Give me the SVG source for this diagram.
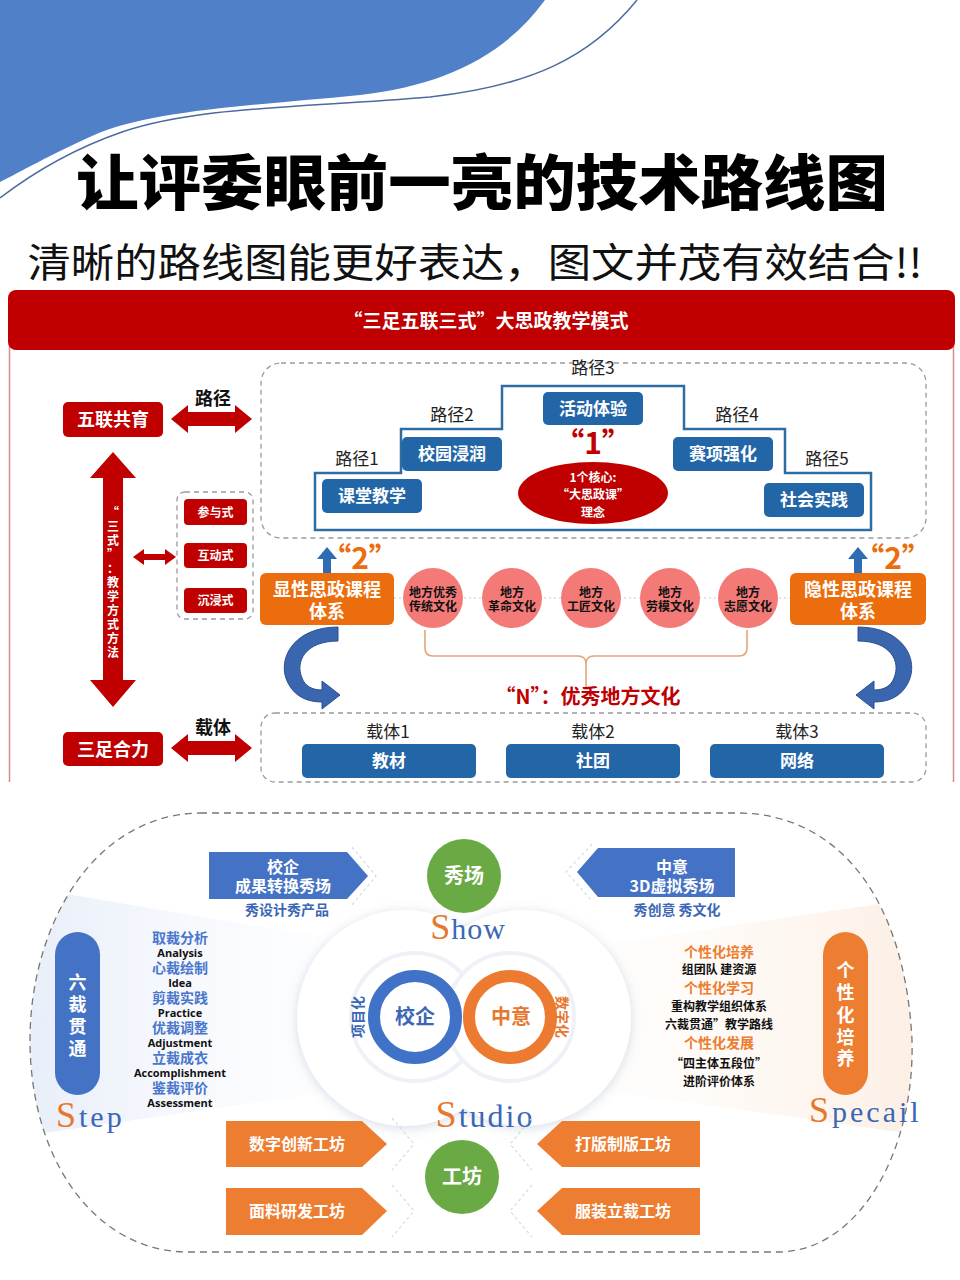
<svg xmlns="http://www.w3.org/2000/svg" width="960" height="1280" viewBox="0 0 960 1280">
<defs>
<style>
.cjk{font-family:"Noto Sans CJK SC","Noto Sans",sans-serif}
.wb{fill:#fff;font-weight:700;text-anchor:middle;font-family:"Noto Sans CJK SC","Noto Sans",sans-serif}
.lbl{fill:#222;font-size:17px;text-anchor:middle;font-family:"Noto Sans CJK SC","Noto Sans",sans-serif}
.redbox{fill:#c00000}
.bluebox{fill:#2366a8}
.orbox{fill:#ec6d0d}
.dash{fill:none;stroke:#9a9a9a;stroke-width:1.3;stroke-dasharray:5 4}
.circ{fill:#f47a78}
.ctxt{fill:#111;font-size:12px;font-weight:700;text-anchor:middle;font-family:"Noto Sans CJK SC",sans-serif}
.serif{font-family:"Liberation Serif","DejaVu Serif",serif}
.bl{fill:#4a76cc;font-size:14px;font-weight:700;text-anchor:middle;font-family:"Noto Sans CJK SC",sans-serif}
.en{fill:#111;font-size:11px;font-weight:700;text-anchor:middle;font-family:"Open Sans","Liberation Sans",sans-serif}
.og{fill:#ed7d31;font-size:14px;font-weight:700;text-anchor:middle;font-family:"Noto Sans CJK SC",sans-serif}
.bk{fill:#111;font-size:12px;font-weight:700;text-anchor:middle;font-family:"Noto Sans CJK SC",sans-serif}
.ghost{fill:none;stroke:#d5dbe8;stroke-width:1.2;stroke-dasharray:3 3}
</style>
<filter id="soft" x="-20%" y="-20%" width="140%" height="140%">
<feDropShadow dx="0" dy="2" stdDeviation="6" flood-color="#8c9ab8" flood-opacity="0.35"/>
</filter>
<linearGradient id="gBlue" x1="0" y1="0" x2="1" y2="0">
<stop offset="0" stop-color="#e8eef9"/><stop offset="1" stop-color="#f7f9fd" stop-opacity="0.2"/>
</linearGradient>
<linearGradient id="gOr" x1="1" y1="0" x2="0" y2="0">
<stop offset="0" stop-color="#fcefe4"/><stop offset="1" stop-color="#fef8f3" stop-opacity="0.2"/>
</linearGradient>
<clipPath id="outlineClip">
<path d="M200,813 L740,813 C 840,815 905,900 912,1040 C 915,1150 860,1250 780,1252 L185,1252 C 95,1250 30,1160 30,1040 C 30,930 90,815 200,813 Z"/>
</clipPath>
</defs>

<rect width="960" height="1280" fill="#fff"/>

<!-- top decoration -->
<g id="banner">
<path d="M0,0 L545,0 C 505,55 445,85 360,95 C 250,106 150,110 92,136 C 50,155 20,172 0,182 Z" fill="#5080c8"/>
<path d="M637,0 C 590,58 530,86 430,97 C 300,108 200,106 122,132 C 70,150 30,175 0,198" fill="none" stroke="#4a6aa0" stroke-width="1.5"/>
<text x="482" y="205" class="cjk" font-size="60" font-weight="900" fill="#000" text-anchor="middle" textLength="812" lengthAdjust="spacingAndGlyphs" stroke="#fff" stroke-width="3" paint-order="stroke">让评委眼前一亮的技术路线图</text>
<text x="475" y="277" class="cjk" font-size="40" fill="#111" text-anchor="middle" textLength="895" lengthAdjust="spacingAndGlyphs">清晰的路线图能更好表达，图文并茂有效结合!!</text>
</g>

<!-- upper diagram frame -->
<g id="frame">
<line x1="9.5" y1="340" x2="9.5" y2="782" stroke="#d98c8c" stroke-width="1.5"/>
<line x1="953.5" y1="340" x2="953.5" y2="782" stroke="#d98c8c" stroke-width="1.5"/>
<rect x="8" y="290" width="947" height="60" rx="8" fill="#c00000"/>
<text x="486" y="328" class="wb" font-size="19">“三足五联三式”大思政教学模式</text>
<rect x="261" y="363" width="665" height="175" rx="20" class="dash"/>
<rect x="177" y="492" width="76" height="127" rx="8" class="dash"/>
<rect x="261" y="713" width="665" height="69" rx="14" class="dash"/>
<polygon points="315,530 315,473 401,473 401,429 502,429 502,386 684,386 684,429 785,429 785,473 871,473 871,530" fill="#fff" stroke="#2e6da4" stroke-width="2.5"/>
</g>

<!-- connectors -->
<g id="connectors">
<polygon points="171,419 188,405 188,412 235,412 235,405 252,419 235,433 235,426 188,426 188,433" fill="#c00000"/>
<polygon points="171,748 188,734 188,741 235,741 235,734 252,748 235,762 235,755 188,755 188,762" fill="#c00000"/>
<polygon points="113,452 136,478 123,478 123,680 136,680 113,707 90,680 103,680 103,478 90,478" fill="#c00000"/>
<polygon points="133,557 144,549 144,554 165,554 165,549 176,557 165,565 165,560 144,560 144,565" fill="#c00000"/>
<polygon points="323,573 323,559 317,559 327,547 337,559 331,559 331,573" fill="#2e6db4"/>
<polygon points="854,573 854,559 848,559 858,547 868,559 862,559 862,573" fill="#2e6db4"/>
<line x1="394" y1="598" x2="790" y2="598" stroke="#c8c8c8" stroke-width="1" stroke-dasharray="2 3"/>
<path d="M425,630 L425,648 Q425,656 433,656 L578,656 Q586,656 586,664 L586,687 M586,664 Q586,656 594,656 L739,656 Q747,656 747,648 L747,630" fill="none" stroke="#e3a67a" stroke-width="1.6"/>
<path d="M338,627 C 293,627 276,660 288,683 C 295,697 308,702 322,702 L322,709 L340,695 L322,681 L322,690 C 312,690 305,686 302,678 C 295,662 305,641 338,641 Z" fill="#3a66b0" stroke="#2a4f90" stroke-width="1"/>
<path d="M338,627 C 293,627 276,660 288,683 C 295,697 308,702 322,702 L322,709 L340,695 L322,681 L322,690 C 312,690 305,686 302,678 C 295,662 305,641 338,641 Z" fill="#3a66b0" stroke="#2a4f90" stroke-width="1" transform="translate(1196,0) scale(-1,1)"/>
</g>

<!-- left column nodes -->
<g id="n-wulian"><rect x="63" y="402" width="100" height="35" rx="5" class="redbox"/><text x="113" y="426" class="wb" font-size="18">五联共育</text></g>
<g id="n-sanzu"><rect x="63" y="732" width="100" height="34" rx="5" class="redbox"/><text x="113" y="756" class="wb" font-size="18">三足合力</text></g>
<g id="t-lujing"><text x="213" y="405" class="cjk" font-size="18" font-weight="700" fill="#111" text-anchor="middle">路径</text></g>
<g id="t-zaiti"><text x="213" y="734" class="cjk" font-size="18" font-weight="700" fill="#111" text-anchor="middle">载体</text></g>
<g id="t-sanshi" class="wb" font-size="12">
<text x="113" y="517">“</text><text x="113" y="531">三</text><text x="113" y="545">式</text><text x="113" y="559">”</text><text x="113" y="573">：</text>
<text x="113" y="587">教</text><text x="113" y="601">学</text><text x="113" y="615">方</text><text x="113" y="629">式</text><text x="113" y="643">方</text><text x="113" y="657">法</text>
</g>
<g id="n-canyu"><rect x="184" y="499" width="63" height="26" rx="4" class="redbox"/><text x="215.5" y="517" class="wb" font-size="12">参与式</text></g>
<g id="n-hudong"><rect x="184" y="543" width="63" height="25" rx="4" class="redbox"/><text x="215.5" y="560" class="wb" font-size="12">互动式</text></g>
<g id="n-chenjin"><rect x="184" y="588" width="63" height="25" rx="4" class="redbox"/><text x="215.5" y="605" class="wb" font-size="12">沉浸式</text></g>

<!-- paths -->
<g id="n-path1"><text x="357" y="465" class="lbl">路径1</text><rect x="322" y="479" width="100" height="34" rx="5" class="bluebox"/><text x="372" y="502" class="wb" font-size="17">课堂教学</text></g>
<g id="n-path2"><text x="452" y="421" class="lbl">路径2</text><rect x="402" y="437" width="100" height="34" rx="5" class="bluebox"/><text x="452" y="460" class="wb" font-size="17">校园浸润</text></g>
<g id="n-path3"><text x="593" y="374" class="lbl">路径3</text><rect x="543" y="392" width="100" height="33" rx="5" class="bluebox"/><text x="593" y="415" class="wb" font-size="17">活动体验</text></g>
<g id="n-path4"><text x="737" y="421" class="lbl">路径4</text><rect x="673" y="437" width="100" height="34" rx="5" class="bluebox"/><text x="723" y="460" class="wb" font-size="17">赛项强化</text></g>
<g id="n-path5"><text x="827" y="465" class="lbl">路径5</text><rect x="764" y="483" width="100" height="34" rx="5" class="bluebox"/><text x="814" y="506" class="wb" font-size="17">社会实践</text></g>
<g id="n-core">
<text x="593" y="454" class="cjk" font-size="30" font-weight="700" fill="#c00000" text-anchor="middle">“1”</text>
<ellipse cx="593" cy="493" rx="75" ry="31" fill="#c00000"/>
<text x="593" y="482" class="wb" font-size="12">1个核心:</text>
<text x="593" y="499" class="wb" font-size="12">“大思政课”</text>
<text x="593" y="517" class="wb" font-size="12">理念</text>
</g>

<!-- course systems -->
<g id="n-xianxing">
<text x="360" y="569" class="cjk" font-size="30" font-weight="700" fill="#ec6d0d" text-anchor="middle">“2”</text>
<rect x="260" y="573" width="134" height="52" rx="6" class="orbox"/>
<text x="327" y="596" class="wb" font-size="18">显性思政课程</text><text x="327" y="618" class="wb" font-size="18">体系</text>
</g>
<g id="n-yinxing">
<text x="893" y="569" class="cjk" font-size="30" font-weight="700" fill="#ec6d0d" text-anchor="middle">“2”</text>
<rect x="790" y="573" width="136" height="52" rx="6" class="orbox"/>
<text x="858" y="596" class="wb" font-size="18">隐性思政课程</text><text x="858" y="618" class="wb" font-size="18">体系</text>
</g>
<g id="n-c1"><circle cx="433" cy="598" r="30" class="circ"/><text x="433" y="597" class="ctxt">地方优秀</text><text x="433" y="611" class="ctxt">传统文化</text></g>
<g id="n-c2"><circle cx="512" cy="598" r="30" class="circ"/><text x="512" y="597" class="ctxt">地方</text><text x="512" y="611" class="ctxt">革命文化</text></g>
<g id="n-c3"><circle cx="591" cy="598" r="30" class="circ"/><text x="591" y="597" class="ctxt">地方</text><text x="591" y="611" class="ctxt">工匠文化</text></g>
<g id="n-c4"><circle cx="670" cy="598" r="30" class="circ"/><text x="670" y="597" class="ctxt">地方</text><text x="670" y="611" class="ctxt">劳模文化</text></g>
<g id="n-c5"><circle cx="748" cy="598" r="30" class="circ"/><text x="748" y="597" class="ctxt">地方</text><text x="748" y="611" class="ctxt">志愿文化</text></g>
<g id="t-n"><text x="588" y="704" class="cjk" font-size="20" font-weight="700" fill="#c00000" text-anchor="middle">“N”：优秀地方文化</text></g>

<!-- carriers -->
<g id="n-z1"><text x="388" y="738" class="lbl">载体1</text><rect x="302" y="744" width="174" height="34" rx="5" class="bluebox"/><text x="389" y="767" class="wb" font-size="17">教材</text></g>
<g id="n-z2"><text x="593" y="738" class="lbl">载体2</text><rect x="506" y="744" width="174" height="34" rx="5" class="bluebox"/><text x="593" y="767" class="wb" font-size="17">社团</text></g>
<g id="n-z3"><text x="797" y="738" class="lbl">载体3</text><rect x="710" y="744" width="174" height="34" rx="5" class="bluebox"/><text x="797" y="767" class="wb" font-size="17">网络</text></g>

<!-- lower diagram -->
<g id="lower-bg">
<g clip-path="url(#outlineClip)">
<polygon points="30,888 330,938 330,1092 30,1135" fill="url(#gBlue)"/>
<polygon points="920,898 600,945 600,1090 920,1135" fill="url(#gOr)"/>
</g>
<path d="M200,813 L740,813 C 840,815 905,900 912,1040 C 915,1150 860,1250 780,1252 L185,1252 C 95,1250 30,1160 30,1040 C 30,930 90,815 200,813 Z" fill="none" stroke="#777" stroke-width="1.3" stroke-dasharray="7 5"/>
<g filter="url(#soft)">
<circle cx="405" cy="1018" r="108" fill="#fff"/>
<circle cx="523" cy="1018" r="108" fill="#fff"/>
</g>
<circle cx="415" cy="1017" r="64" fill="#fff" stroke="#eef1f6" stroke-width="4"/>
<circle cx="510" cy="1017" r="64" fill="#fff" stroke="#eef1f6" stroke-width="4"/>
</g>

<g id="n-xiaoqi-ring">
<circle cx="415" cy="1017" r="41" fill="#fff" stroke="#4072c8" stroke-width="12"/>
<text x="415" y="1024" class="cjk" font-size="20" font-weight="700" fill="#3b67b5" text-anchor="middle">校企</text>
<text transform="translate(363,1017) rotate(-90)" class="cjk" font-size="14" font-weight="700" fill="#3b67b5" text-anchor="middle">项目化</text>
</g>
<g id="n-zhongyi-ring">
<circle cx="510" cy="1017" r="41" fill="#fff" stroke="#ec7a30" stroke-width="12"/>
<text x="511" y="1024" class="cjk" font-size="20" font-weight="700" fill="#e8772e" text-anchor="middle">中意</text>
<text transform="translate(557,1017) rotate(90)" class="cjk" font-size="14" font-weight="700" fill="#e8772e" text-anchor="middle">数字化</text>
</g>

<g id="n-show">
<circle cx="464" cy="876" r="37" fill="#6aaa45"/>
<text x="464" y="883" class="wb" font-size="20">秀场</text>
<text x="468" y="939" class="serif" text-anchor="middle" letter-spacing="1"><tspan font-size="36" fill="#e8772e">S</tspan><tspan font-size="30" fill="#3b67b5">how</tspan></text>
</g>
<g id="n-studio">
<text x="485" y="1127" class="serif" text-anchor="middle" letter-spacing="2"><tspan font-size="38" fill="#e8772e">S</tspan><tspan font-size="32" fill="#3b67b5">tudio</tspan></text>
<circle cx="462" cy="1177" r="37" fill="#6aaa45"/>
<text x="462" y="1184" class="wb" font-size="20">工坊</text>
</g>

<g id="n-show-left">
<polyline points="352,847 376,876 352,905" class="ghost"/>
<polygon points="209,852 347,852 368,876 347,899 209,899" fill="#4472c4"/>
<text x="283" y="873" class="wb" font-size="16">校企</text>
<text x="283" y="892" class="wb" font-size="16">成果转换秀场</text>
<text x="287" y="915" class="cjk" font-size="14" font-weight="700" fill="#3b67b5" text-anchor="middle">秀设计秀产品</text>
</g>
<g id="n-show-right">
<polyline points="592,844 566,872 592,901" class="ghost"/>
<polygon points="735,848 598,848 577,872 598,897 735,897" fill="#4472c4"/>
<text x="672" y="873" class="wb" font-size="16">中意</text>
<text x="672" y="892" class="wb" font-size="16">3D虚拟秀场</text>
<text x="677" y="915" class="cjk" font-size="14" font-weight="700" fill="#3b67b5" text-anchor="middle">秀创意 秀文化</text>
</g>

<g id="n-step">
<rect x="55" y="932" width="45" height="163" rx="22.5" fill="#4472c4"/>
<g class="wb" font-size="18"><text x="77.5" y="989">六</text><text x="77.5" y="1011">裁</text><text x="77.5" y="1033">贯</text><text x="77.5" y="1055">通</text></g>
<text x="56" y="1127" class="serif" letter-spacing="3"><tspan font-size="36" fill="#e8772e">S</tspan><tspan font-size="30" fill="#3b67b5">tep</tspan></text>
<text x="180" y="943" class="bl">取裁分析</text><text x="180" y="957" class="en">Analysis</text>
<text x="180" y="973" class="bl">心裁绘制</text><text x="180" y="987" class="en">Idea</text>
<text x="180" y="1003" class="bl">剪裁实践</text><text x="180" y="1017" class="en">Practice</text>
<text x="180" y="1033" class="bl">优裁调整</text><text x="180" y="1047" class="en">Adjustment</text>
<text x="180" y="1063" class="bl">立裁成衣</text><text x="180" y="1077" class="en">Accomplishment</text>
<text x="180" y="1093" class="bl">鉴裁评价</text><text x="180" y="1107" class="en">Assessment</text>
</g>

<g id="n-special">
<rect x="823" y="932" width="45" height="163" rx="22.5" fill="#ed7d31"/>
<g class="wb" font-size="18"><text x="845.5" y="977">个</text><text x="845.5" y="999">性</text><text x="845.5" y="1022">化</text><text x="845.5" y="1044">培</text><text x="845.5" y="1065">养</text></g>
<text x="809" y="1122" class="serif" letter-spacing="3"><tspan font-size="36" fill="#e8772e">S</tspan><tspan font-size="30" fill="#3b67b5">pecail</tspan></text>
<text x="719" y="957" class="og">个性化培养</text>
<text x="719" y="974" class="bk">组团队 建资源</text>
<text x="719" y="993" class="og">个性化学习</text>
<text x="719" y="1011" class="bk">重构教学组织体系</text>
<text x="719" y="1029" class="bk">六裁贯通”教学路线</text>
<text x="719" y="1048" class="og">个性化发展</text>
<text x="719" y="1068" class="bk">“四主体五段位”</text>
<text x="719" y="1086" class="bk">进阶评价体系</text>
</g>

<g id="n-ws1"><polyline points="392,1118 414,1144 392,1170" class="ghost"/><polygon points="226,1121 362,1121 387,1144 362,1167 226,1167" fill="#ed7d31"/><text x="297" y="1150" class="wb" font-size="16">数字创新工坊</text></g>
<g id="n-ws2"><polyline points="392,1185 414,1211 392,1237" class="ghost"/><polygon points="226,1188 362,1188 387,1211 362,1235 226,1235" fill="#ed7d31"/><text x="297" y="1217" class="wb" font-size="16">面料研发工坊</text></g>
<g id="n-ws3"><polyline points="532,1118 510,1144 532,1170" class="ghost"/><polygon points="700,1121 562,1121 537,1144 562,1167 700,1167" fill="#ed7d31"/><text x="623" y="1150" class="wb" font-size="16">打版制版工坊</text></g>
<g id="n-ws4"><polyline points="532,1185 510,1211 532,1237" class="ghost"/><polygon points="700,1188 562,1188 537,1211 562,1235 700,1235" fill="#ed7d31"/><text x="623" y="1217" class="wb" font-size="16">服装立裁工坊</text></g>
</svg>
